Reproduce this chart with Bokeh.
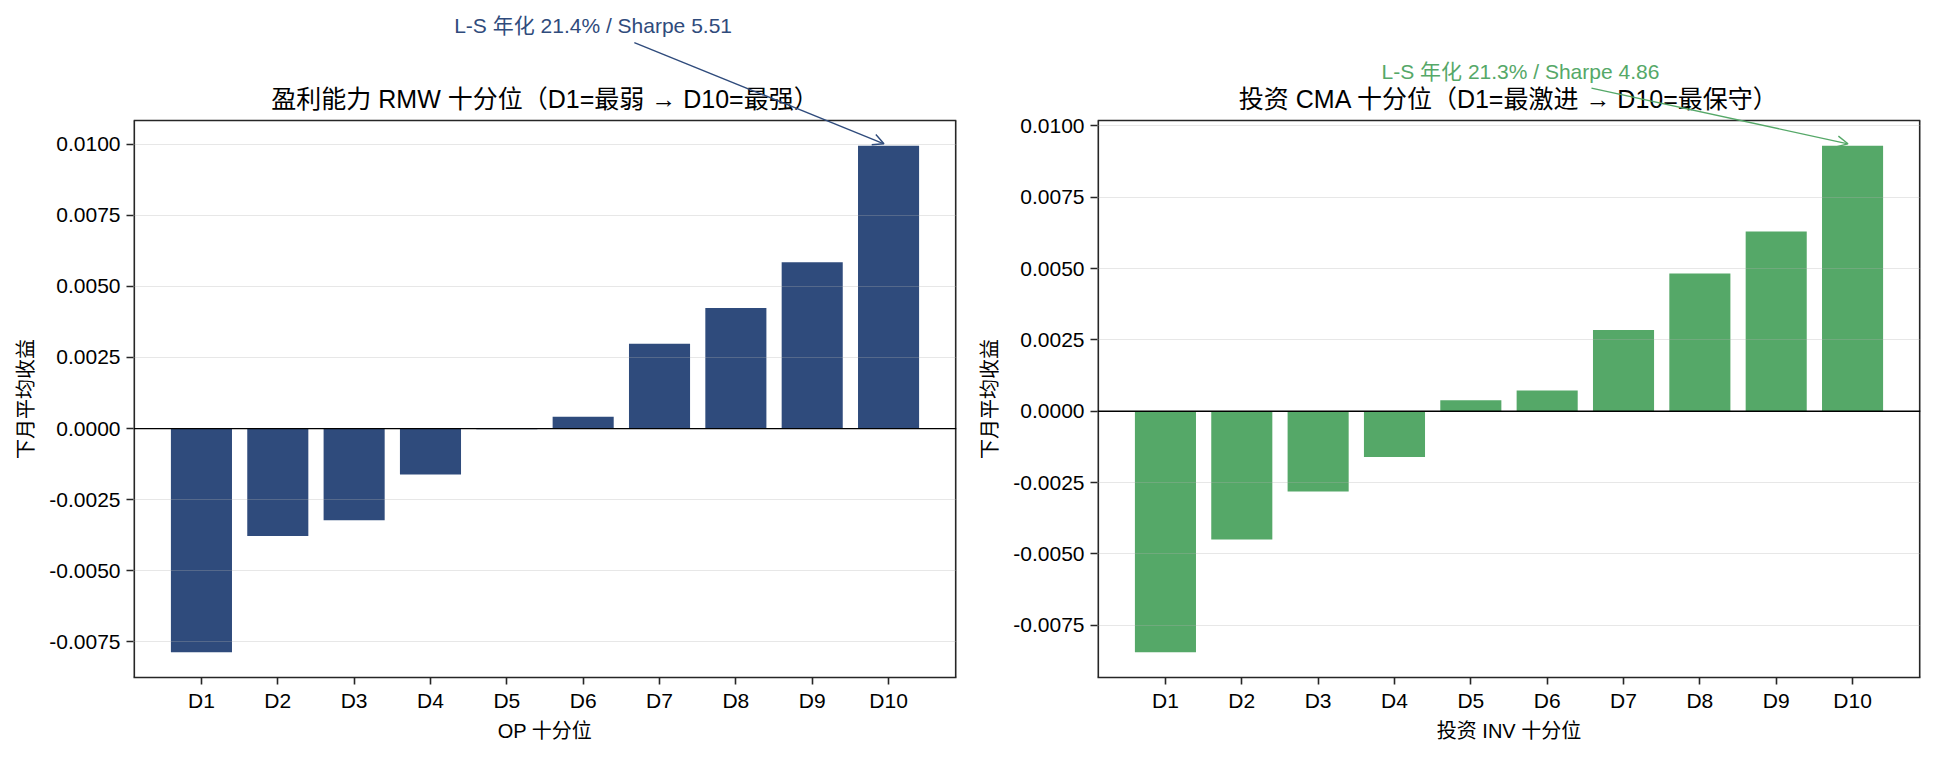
import math
from bokeh.plotting import figure
from bokeh.layouts import row
from bokeh.models import (FixedTicker, PrintfTickFormatter, Span, Label, Arrow,
                          OpenHead, Range1d, ColumnDataSource)
from bokeh.embed import file_html
from bokeh.resources import INLINE

# Decile labels and mean next-month returns per decile
deciles = ["D1", "D2", "D3", "D4", "D5", "D6", "D7", "D8", "D9", "D10"]
rmw_returns = [-0.00786, -0.00378, -0.00322, -0.00161, -0.00002,
               0.00042, 0.00298, 0.00424, 0.00585, 0.00994]
cma_returns = [-0.00844, -0.00449, -0.00281, -0.00160, 0.00039,
               0.00073, 0.00285, 0.00483, 0.00630, 0.00930]
y_ticks = [-0.0075, -0.005, -0.0025, 0.0, 0.0025, 0.005, 0.0075, 0.01]

rmw_title = "盈利能力 RMW 十分位（D1=最弱 → D10=最强）"
cma_title = "投资 CMA 十分位（D1=最激进 → D10=最保守）"
rmw_xlabel = "OP 十分位"
cma_xlabel = "投资 INV 十分位"
y_label = "下月平均收益"
rmw_note = "L-S 年化 21.4% / Sharpe 5.51"
cma_note = "L-S 年化 21.3% / Sharpe 4.86"

NAVY = "#2F4B7C"
GREEN = "#55A868"
FONT = "Liberation Sans, Noto Sans CJK SC"
INK = "#262626"

FRAME_W = 823
BOX_H = 557        # height of the boxed axes area
HEAD_H = 120       # free space above the box for title and note
FOOT_H = 80        # room for the x axis below the box
TOTAL_H = HEAD_H + BOX_H + FOOT_H
STRIP_W = 40       # narrow strip that carries the y-axis title


def y_title_strip(text, x_center):
    """Vertical axis title, centred on the boxed area of the neighbour panel."""
    s = figure(frame_width=STRIP_W, frame_height=TOTAL_H, min_border=0,
               x_range=Range1d(0, STRIP_W), y_range=Range1d(0, TOTAL_H),
               output_backend="svg", toolbar_location=None)
    s.axis.visible = False
    s.grid.visible = False
    s.outline_line_color = None
    s.add_layout(Label(x=x_center, y=FOOT_H + BOX_H / 2, text=text,
                       angle=math.pi / 2, text_align="center",
                       text_baseline="middle", text_font=FONT,
                       text_font_size="20px", text_color="black"))
    return s


def decile_panel(values, color, title, xlabel, note, note_xy, tail_xy,
                 border_left, border_right):
    n = len(values)
    lo, hi = min(values), max(values)
    pad = 0.05 * (hi - lo)
    y0, y1 = lo - pad, hi + pad
    xpad = 0.05 * ((n - 1) + 0.8)
    x0, x1 = -0.4 - xpad, (n - 1) + 0.4 + xpad
    per_px = (y1 - y0) / BOX_H
    # the plotting frame reaches up to the top of the canvas so that the
    # title, note and arrow can live above the boxed area
    p = figure(frame_width=FRAME_W, frame_height=BOX_H + HEAD_H,
               min_border_left=border_left, min_border_right=border_right,
               min_border_top=0, min_border_bottom=FOOT_H,
               x_range=Range1d(x0, x1),
               y_range=Range1d(y0, y0 + (BOX_H + HEAD_H) * per_px),
               output_backend="svg", toolbar_location=None)
    p.outline_line_color = None

    src = ColumnDataSource(dict(x=list(range(n)), top=values))
    p.vbar(x="x", top="top", bottom=0, width=0.8, source=src,
           fill_color=color, line_color=None)

    # box around the axes area
    p.segment(x0=[x0, x1], y0=[y0, y0], x1=[x0, x1], y1=[y1, y1],
              line_color=INK, line_width=3.2)
    p.segment(x0=[x0], y0=[y1], x1=[x1], y1=[y1],
              line_color=INK, line_width=1.6)

    p.xgrid.visible = False
    p.ygrid.ticker = FixedTicker(ticks=y_ticks)
    p.ygrid.grid_line_color = "#b0b0b0"
    p.ygrid.grid_line_alpha = 0.3
    p.ygrid.grid_line_width = 1.2
    p.ygrid.level = "guide"

    p.add_layout(Span(location=0, dimension="width", line_color="black",
                      line_width=1.3))

    for ax in (p.xaxis[0], p.yaxis[0]):
        ax.axis_line_color = INK
        ax.axis_line_width = 1.6
        ax.major_tick_line_color = INK
        ax.major_tick_line_width = 1.6
        ax.major_tick_in = 0
        ax.major_tick_out = 7
        ax.minor_tick_line_color = None
        ax.major_label_text_font = FONT
        ax.major_label_text_font_size = "21px"
        ax.major_label_text_color = "black"
        ax.axis_label_text_font = FONT
        ax.axis_label_text_font_size = "20px"
        ax.axis_label_text_font_style = "normal"
        ax.axis_label_text_color = "black"

    p.xaxis.ticker = FixedTicker(ticks=list(range(n)))
    p.xaxis.major_label_overrides = {i: d for i, d in enumerate(deciles)}
    p.xaxis.major_label_standoff = 4
    p.xaxis.axis_label = xlabel
    p.xaxis.axis_label_standoff = 5

    p.yaxis.axis_line_color = None
    p.yaxis.ticker = FixedTicker(ticks=y_ticks)
    p.yaxis.formatter = PrintfTickFormatter(format="%.4f")
    p.yaxis.major_label_standoff = 6

    # panel title, centred above the box
    p.add_layout(Label(x=(x0 + x1) / 2, y=y1 + 21.5 * per_px, text=title,
                       text_align="center", text_baseline="middle",
                       text_font=FONT, text_font_size="25px",
                       text_color="black"))

    # long-short annotation pointing at the top decile
    top_x, top_y = n - 1, values[-1]
    p.add_layout(Arrow(end=OpenHead(size=11, line_color=color, line_width=1.4),
                       x_start=tail_xy[0], y_start=tail_xy[1],
                       x_end=top_x - 0.06, y_end=top_y + 2 * per_px,
                       line_color=color, line_width=1.4))
    p.add_layout(Label(x=note_xy[0], y=note_xy[1], text=note,
                       text_align="center", text_baseline="middle",
                       text_font=FONT, text_font_size="21px",
                       text_color=color))
    return p


s1 = y_title_strip(y_label, 25)
p1 = decile_panel(rmw_returns, NAVY, rmw_title, rmw_xlabel, rmw_note,
                  (5.13, 0.01416), (5.67, 0.01357), 133 - STRIP_W, 11)
s2 = y_title_strip(y_label, 22)
p2 = decile_panel(cma_returns, GREEN, cma_title, cma_xlabel, cma_note,
                  (4.65, 0.01192), (5.58, 0.01132), 130 - STRIP_W, 14)

layout = row(s1, p1, s2, p2)
open("out.html", "w").write(file_html(layout, INLINE))
